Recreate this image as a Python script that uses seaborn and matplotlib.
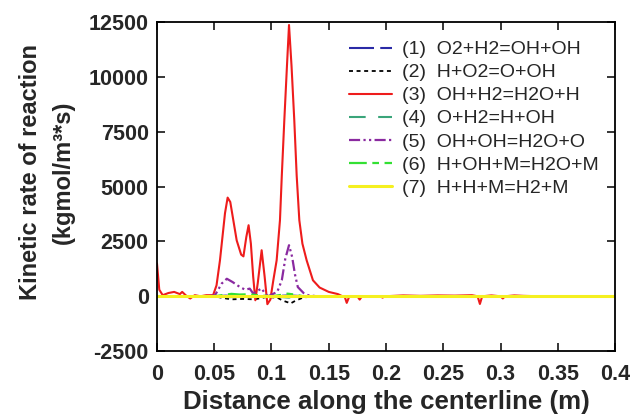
import matplotlib
matplotlib.use("Agg")
import matplotlib.pyplot as plt
import seaborn as sns
from matplotlib.ticker import MultipleLocator, FuncFormatter

# --- Data ---
labels = ["(1)  O2+H2=OH+OH", "(2)  H+O2=O+OH", "(3)  OH+H2=H2O+H", "(4)  O+H2=H+OH",
          "(5)  OH+OH=H2O+O", "(6)  H+OH+M=H2O+M", "(7)  H+H+M=H2+M"]

x1 = [0.0, 0.05, 0.06, 0.07, 0.1, 0.115, 0.13, 0.4]
r1 = [0, 0, 30, 0, 0, 40, 0, 0]

x2 = [0.0, 0.05, 0.058, 0.065, 0.075, 0.085, 0.095, 0.105, 0.110, 0.1145, 0.1165, 0.121, 0.128, 0.14, 0.4]
r2 = [0, 0, -80, -140, -120, -140, -40, -60, -200, -280, -330, -200, -50, 0, 0]

x3 = [0.0, 0.002, 0.005, 0.010, 0.015, 0.020, 0.022, 0.025, 0.029, 0.033, 0.038, 0.043, 0.049,
      0.052, 0.055, 0.0594, 0.0617, 0.064, 0.0696, 0.0735, 0.0755, 0.078, 0.080, 0.082, 0.084,
      0.0859, 0.088, 0.0914, 0.094, 0.0964, 0.099, 0.1016, 0.1045, 0.1074, 0.109, 0.1112,
      0.1135, 0.1153, 0.1175, 0.1199, 0.122, 0.1243, 0.127, 0.1307, 0.1362, 0.142, 0.150,
      0.158, 0.162, 0.164, 0.1657, 0.168, 0.175, 0.177, 0.179, 0.195, 0.197, 0.199, 0.215,
      0.230, 0.245, 0.260, 0.275, 0.280, 0.282, 0.284, 0.292, 0.300, 0.302, 0.304, 0.312,
      0.320, 0.335, 0.350, 0.400]
r3 = [1500, 300, 50, 150, 200, 100, 200, 50, -100, 50, 0, 50, 50,
      500, 1640, 3790, 4500, 4300, 2550, 1900, 1820, 2700, 3240, 2400, 900,
      -180, 600, 2100, 900, -360, -150, 730, 1640, 3470, 5500, 8030,
      10500, 12370, 10500, 8030, 5500, 3470, 2400, 1640, 730, 400, 200,
      100, 0, -30, -300, 0, 0, -150, 0, 0, -60, 0, 40,
      20, 40, 30, 50, 0, -350, 0, 40, 0, -100, 0, 40,
      20, 0, 0, 0]

x4 = [0.0, 0.05, 0.062, 0.075, 0.1, 0.115, 0.13, 0.4]
r4 = [0, 0, -40, -20, 0, -60, 0, 0]

x5 = [0.0, 0.045, 0.0507, 0.0565, 0.061, 0.066, 0.0725, 0.077, 0.081, 0.084, 0.0914, 0.094,
      0.097, 0.101, 0.105, 0.109, 0.112, 0.1153, 0.118, 0.1205, 0.123, 0.128, 0.132, 0.14, 0.4]
r5 = [0, 0, 50, 580, 800, 650, 420, 300, 350, 130, 360, 150,
      0, 100, 200, 730, 1700, 2330, 1800, 1000, 420, 150, 50, 0, 0]

x6 = [0.0, 0.05, 0.058, 0.065, 0.072, 0.08, 0.09, 0.1, 0.108, 0.114, 0.12, 0.128, 0.4]
r6 = [0, 0, 60, 110, 80, 90, 40, 0, 60, 120, 80, 0, 0]

x7 = [0.0, 0.1, 0.2, 0.3, 0.4]
r7 = [0, 0, 0, 0, 0]

# --- Styling ---
sns.set_style("ticks")
plt.rcParams['font.family'] = ['Liberation Sans', 'DejaVu Sans']

fig = plt.figure(figsize=(6.33, 4.18), dpi=100)
ax = fig.add_axes([0.248, 0.160, 0.7236, 0.787])

series = [
    (x1, r1, "#2a2aa6", (0, (12, 3)), 1.5),
    (x2, r2, "black", (0, (2.2, 2)), 1.3),
    (x3, r3, "#ee1c1c", "-", 1.5),
    (x4, r4, "#3aa57a", (0, (8, 6)), 1.5),
    (x5, r5, "#8a2aa0", (0, (5, 1.5, 1, 1.5, 1, 1.5)), 1.6),
    (x6, r6, "#33e033", (0, (8, 2.5, 3, 2.5)), 1.6),
    (x7, r7, "#f5f020", "-", 2.2),
]
for (xs, ys, col, ls, lw), lab in zip(series, labels):
    sns.lineplot(x=xs, y=ys, ax=ax, color=col, linestyle=ls, linewidth=lw,
                 label=lab, sort=False)

ax.set_xlim(0, 0.4)
ax.set_ylim(-2500, 12500)
ax.xaxis.set_major_locator(MultipleLocator(0.05))
ax.yaxis.set_major_locator(MultipleLocator(2500))
ax.xaxis.set_major_formatter(FuncFormatter(lambda v, p: f"{v:g}"))
ax.yaxis.set_major_formatter(FuncFormatter(lambda v, p: f"{v:.0f}"))

ax.tick_params(direction="in", length=6, width=1.3, top=True, right=True,
               labelsize=15.5)
ax.tick_params(axis="x", pad=9)
ax.tick_params(axis="y", pad=6)
for lbl in ax.get_xticklabels() + ax.get_yticklabels():
    lbl.set_fontweight("bold")
for sp in ax.spines.values():
    sp.set_linewidth(1.3)
    sp.set_color("black")

ax.set_xlabel("Distance along the centerline (m)", fontsize=18.6, fontweight="bold", labelpad=4)
ax.set_ylabel("Kinetic rate of reaction\n(kgmol/m³*s)", fontsize=17, fontweight="bold",
              linespacing=1.55)
ax.yaxis.set_label_coords(-0.179, 0.544)

ax.legend(loc="upper left", bbox_to_anchor=(0.39, 0.985), frameon=False, fontsize=14,
          handlelength=2.2, handletextpad=0.5, labelspacing=0.28, borderaxespad=0.3)

fig.savefig("out.png", dpi=100)
